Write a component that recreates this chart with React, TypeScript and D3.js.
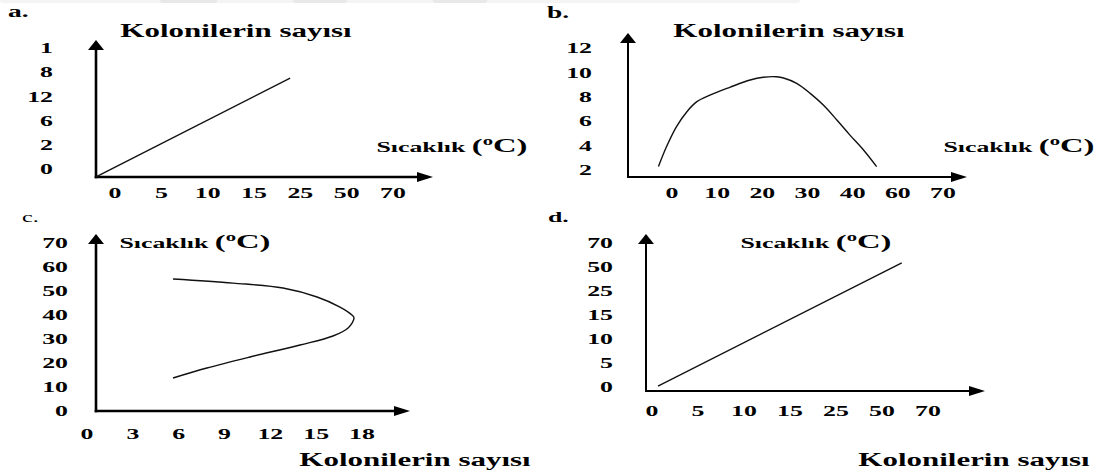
import React from "react";
import * as d3 from "d3";

// Tick labels, listed from the axis origin outwards
const aTempTicks = ["0", "5", "10", "15", "25", "50", "70"];
const aCountTicks = ["0", "2", "6", "12", "8", "1"];
const bTempTicks = ["0", "10", "20", "30", "40", "60", "70"];
const bCountTicks = ["2", "4", "6", "8", "10", "12"];
const cCountTicks = [0, 3, 6, 9, 12, 15, 18];
const cTempTicks = [0, 10, 20, 30, 40, 50, 60, 70];
const dCountTicks = ["0", "5", "10", "15", "25", "50", "70"];
const dTempTicks = ["0", "5", "10", "15", "25", "50", "70"];

// a, b, d: points in tick steps along each axis (their labels are not evenly spaced in value)
const aLine: [number, number][] = [
  [-0.41, -0.33],
  [3.78, 3.76],
];
const bCurve: [number, number][] = [
  [-0.3, 0.14],
  [-0.12, 0.96],
  [0.1, 1.78],
  [0.33, 2.39],
  [0.55, 2.8],
  [0.84, 3.07],
  [1.28, 3.39],
  [1.73, 3.69],
  [2.02, 3.8],
  [2.32, 3.82],
  [2.47, 3.77],
  [2.76, 3.55],
  [3.06, 3.14],
  [3.35, 2.66],
  [3.65, 2.05],
  [3.94, 1.43],
  [4.24, 0.82],
  [4.53, 0.14],
];
const dLine: [number, number][] = [
  [0.13, 0.04],
  [5.43, 5.17],
];
// c: [colony count, temperature °C]
const cCurve: [number, number][] = [
  [5.63, 55],
  [9.56, 53.3],
  [12.83, 51.25],
  [15.06, 47.5],
  [16.56, 43.3],
  [17.34, 40],
  [17.48, 38.75],
  [17.09, 34.6],
  [16.1, 31.25],
  [13.94, 27.5],
  [10.67, 22.5],
  [7.85, 17.9],
  [5.63, 13.75],
];

const FONT = "'Liberation Serif', 'Times New Roman', Times, serif";
const SX = 1.72; // the whole sheet is set in a horizontally widened serif

type Tick = { at: number; label: string };
const stepTicks = (labels: string[]): Tick[] => labels.map((l, i) => ({ at: i, label: l }));
const valueTicks = (vals: number[]): Tick[] => vals.map((v) => ({ at: v, label: String(v) }));

function Wide({
  x,
  y,
  size,
  weight = "bold",
  anchor = "start",
  dy,
  children,
}: {
  x: number;
  y: number;
  size: number;
  weight?: string;
  anchor?: string;
  dy?: string;
  children: React.ReactNode;
}) {
  return (
    <text
      transform={`translate(${x},${y}) scale(${SX},1)`}
      fontFamily={FONT}
      fontSize={size}
      fontWeight={weight}
      textAnchor={anchor}
      dy={dy}
      fill="#000"
    >
      {children}
    </text>
  );
}

function TempLabel({ x, y }: { x: number; y: number }) {
  return (
    <Wide x={x} y={y} size={15} anchor="middle">
      <tspan>Sıcaklık </tspan>
      <tspan fontSize={19}>(</tspan>
      <tspan fontSize={12} dy={-7}>
        o
      </tspan>
      <tspan fontSize={19} dy={7}>
        C)
      </tspan>
    </Wide>
  );
}

function CountLabel({ x, y }: { x: number; y: number }) {
  return (
    <Wide x={x} y={y} size={18} anchor="middle">
      Kolonilerin sayısı
    </Wide>
  );
}

type PanelSpec = {
  origin: [number, number];
  yTip: number;
  xTip: number;
  axisWidth: number;
  xTicks: Tick[];
  yTicks: Tick[];
  xDomain: [number, number];
  yDomain: [number, number];
  xRange: [number, number];
  yRange: [number, number];
  yLabelRight: number;
  xLabelY: number;
  data: [number, number][];
  curve: d3.CurveFactory;
};

function Panel({ p }: { p: PanelSpec }) {
  const x = d3.scaleLinear().domain(p.xDomain).range(p.xRange);
  const y = d3.scaleLinear().domain(p.yDomain).range(p.yRange);
  const path = d3
    .line<[number, number]>()
    .x((d) => x(d[0]))
    .y((d) => y(d[1]))
    .curve(p.curve)(p.data);
  const [ox, oy] = p.origin;
  const hw = p.axisWidth / 2;
  return (
    <g>
      <line x1={ox} y1={oy + hw} x2={ox} y2={p.yTip + 6} stroke="#000" strokeWidth={p.axisWidth} />
      <line x1={ox - hw} y1={oy} x2={p.xTip - 8} y2={oy} stroke="#000" strokeWidth={p.axisWidth} />
      <polygon
        points={`${ox},${p.yTip} ${ox - 8},${p.yTip + 10} ${ox + 8},${p.yTip + 10}`}
        fill="#000"
      />
      <polygon
        points={`${p.xTip},${oy} ${p.xTip - 16},${oy - 5} ${p.xTip - 16},${oy + 5}`}
        fill="#000"
      />
      {p.yTicks.map((t) => (
        <Wide key={"y" + t.label} x={p.yLabelRight} y={y(t.at)} size={15} anchor="end" dy="0.35em">
          {t.label}
        </Wide>
      ))}
      {p.xTicks.map((t) => (
        <Wide key={"x" + t.label} x={x(t.at)} y={p.xLabelY} size={15} anchor="middle" dy="0.35em">
          {t.label}
        </Wide>
      ))}
      <path d={path ?? ""} fill="none" stroke="#111" strokeWidth={1.4} />
    </g>
  );
}

const panelA: PanelSpec = {
  origin: [96, 177],
  yTip: 40,
  xTip: 433,
  axisWidth: 2.6,
  xTicks: stepTicks(aTempTicks),
  yTicks: stepTicks(aCountTicks),
  xDomain: [0, aTempTicks.length - 1],
  yDomain: [0, aCountTicks.length - 1],
  xRange: [115, 393],
  yRange: [169, 48],
  yLabelRight: 53,
  xLabelY: 193,
  data: aLine,
  curve: d3.curveLinear,
};

const panelB: PanelSpec = {
  origin: [628, 177],
  yTip: 33,
  xTip: 967,
  axisWidth: 2,
  xTicks: stepTicks(bTempTicks),
  yTicks: stepTicks(bCountTicks),
  xDomain: [0, bTempTicks.length - 1],
  yDomain: [0, bCountTicks.length - 1],
  xRange: [672, 943],
  yRange: [170, 48],
  yLabelRight: 592,
  xLabelY: 193,
  data: bCurve,
  curve: d3.curveCatmullRom,
};

const panelC: PanelSpec = {
  origin: [96, 411],
  yTip: 234,
  xTip: 410,
  axisWidth: 2.6,
  xTicks: valueTicks(cCountTicks),
  yTicks: valueTicks(cTempTicks),
  xDomain: [0, 18],
  yDomain: [0, 70],
  xRange: [87, 362],
  yRange: [411, 243],
  yLabelRight: 68,
  xLabelY: 434,
  data: cCurve,
  curve: d3.curveCatmullRom,
};

const panelD: PanelSpec = {
  origin: [646, 391],
  yTip: 234,
  xTip: 985,
  axisWidth: 2,
  xTicks: stepTicks(dCountTicks),
  yTicks: stepTicks(dTempTicks),
  xDomain: [0, dCountTicks.length - 1],
  yDomain: [0, dTempTicks.length - 1],
  xRange: [652, 928],
  yRange: [387, 243],
  yLabelRight: 613,
  xLabelY: 411,
  data: dLine,
  curve: d3.curveLinear,
};

export default function App() {
  return (
    <svg
      width={1107}
      height={473}
      viewBox="0 0 1107 473"
      style={{ position: "absolute", left: 0, top: 0, background: "#fff" }}
    >
      <rect x={0} y={0} width={1107} height={473} fill="#fff" />
      {/* faint strip along the top edge */}
      <rect x={0} y={-3} width={800} height={6} rx={3} fill="#f4f4f4" />
      <rect x={160} y={-3} width={57} height={6} rx={3} fill="#e8e8e8" />
      <rect x={293} y={-3} width={54} height={6} rx={3} fill="#e8e8e8" />
      <rect x={433} y={-3} width={54} height={6} rx={3} fill="#e8e8e8" />

      <Wide x={8} y={17} size={16}>a.</Wide>
      <Wide x={547} y={18} size={16}>b.</Wide>
      <Wide x={22} y={222} size={14} weight="normal">c.</Wide>
      <Wide x={548} y={222} size={15}>d.</Wide>

      <Panel p={panelA} />
      <Panel p={panelB} />
      <Panel p={panelC} />
      <Panel p={panelD} />

      <CountLabel x={236} y={37} />
      <CountLabel x={789} y={37} />
      <CountLabel x={415} y={466} />
      <CountLabel x={974} y={466} />

      <TempLabel x={452} y={152} />
      <TempLabel x={1019} y={152} />
      <TempLabel x={195} y={248} />
      <TempLabel x={816} y={248} />
    </svg>
  );
}
